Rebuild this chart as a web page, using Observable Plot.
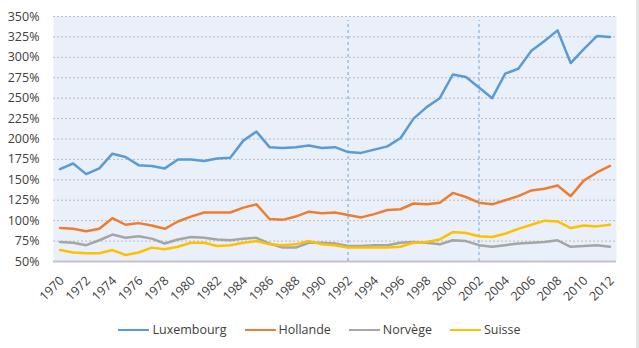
<!DOCTYPE html>
<html>
<head>
<meta charset="utf-8">
<script src="https://cdn.jsdelivr.net/npm/d3@7"></script>
<script src="https://cdn.jsdelivr.net/npm/@observablehq/plot@0.6"></script>
<style>
  html, body { margin: 0; padding: 0; background: #fff; }
  body { width: 639px; height: 348px; overflow: hidden; position: relative; font-family: "Open Sans", sans-serif; }
  #edge { position: absolute; top: 0; right: 0; width: 3px; height: 348px; background: #e3e3e3; }
  #chart svg { display: block; }
  #legend { display: flex; justify-content: center; align-items: center; gap: 18px; margin-top: 13px; font-size: 12.5px; line-height: 17px; color: #404040; }
  .item { display: flex; align-items: center; gap: 3px; }
  .sw { width: 31px; height: 2px; display: inline-block; }
</style>
</head>
<body>
<div id="chart"></div>
<div id="legend"></div>
<div id="edge"></div>
<script>
const years = [1970, 1971, 1972, 1973, 1974, 1975, 1976, 1977, 1978, 1979,
  1980, 1981, 1982, 1983, 1984, 1985, 1986, 1987, 1988, 1989,
  1990, 1991, 1992, 1993, 1994, 1995, 1996, 1997, 1998, 1999,
  2000, 2001, 2002, 2003, 2004, 2005, 2006, 2007, 2008, 2009,
  2010, 2011, 2012];

const luxembourg = [163, 170, 157, 164, 182, 178, 168, 167, 164, 175,
  175, 173, 176, 177, 198, 209, 190, 189, 190, 192,
  189, 190, 184, 183, 187, 191, 201, 225, 239, 250,
  279, 276, 263, 250, 280, 286, 308, 320, 333, 293,
  310, 326, 325];

const hollande = [91, 90, 87, 90, 103, 95, 97, 94, 90, 99,
  105, 110, 110, 110, 116, 120, 102, 101, 105, 111,
  109, 110, 107, 104, 108, 113, 114, 121, 120, 122,
  134, 129, 122, 120, 125, 130, 137, 139, 143, 130,
  149, 159, 167];

const norvege = [74, 73, 70, 76, 83, 79, 81, 78, 72, 77,
  80, 79, 77, 76, 78, 79, 72, 67, 67, 73,
  73, 72, 69, 69, 70, 70, 73, 74, 73, 71,
  76, 75, 70, 68, 70, 72, 73, 74, 76, 68,
  69, 70, 68];

const suisse = [64, 61, 60, 60, 64, 58, 61, 67, 65, 68,
  73, 73, 69, 70, 73, 75, 71, 70, 71, 75,
  71, 70, 67, 67, 67, 67, 68, 73, 74, 77,
  86, 85, 81, 80, 84, 90, 95, 100, 99, 91,
  94, 93, 95];

const seriesNames = ["Luxembourg", "Hollande", "Norvège", "Suisse"];
const seriesValues = [luxembourg, hollande, norvege, suisse];
const seriesColors = ["#5b9bd5", "#ed7d31", "#a5a5a5", "#ffc000"];

const xTicks = [1970, 1972, 1974, 1976, 1978, 1980, 1982, 1984, 1986, 1988, 1990,
  1992, 1994, 1996, 1998, 2000, 2002, 2004, 2006, 2008, 2010, 2012];
const yTicks = [50, 75, 100, 125, 150, 175, 200, 225, 250, 275, 300, 325, 350];
const markerYears = [1992, 2002];

// Long-format rows for the line marks
const rows = seriesNames.flatMap((name, i) =>
  years.map((year, j) => ({ series: name, year, value: seriesValues[i][j] }))
);

const chart = Plot.plot({
  width: 639,
  height: 308,
  marginLeft: 53,
  marginRight: 23,
  marginTop: 16,
  marginBottom: 47,
  style: { fontFamily: "Open Sans, sans-serif", color: "#404040", background: "transparent", overflow: "visible" },
  x: { type: "linear", domain: [1969.5, 2012.5] },
  y: { domain: [50, 350] },
  color: { domain: seriesNames, range: seriesColors },
  marks: [
    Plot.frame({ fill: "#e9f0f9", stroke: null }),
    Plot.gridY(yTicks.slice(1), { stroke: "#bcbcbc", strokeOpacity: 1, strokeDasharray: "2,2" }),
    Plot.ruleY([50], { stroke: "#c4c4c4", strokeWidth: 2 }),
    Plot.ruleX(markerYears, { y1: 50, y2: 350, insetBottom: -4, stroke: "#5b9bd5", strokeOpacity: 0.85, strokeWidth: 1, strokeDasharray: "3,3" }),
    Plot.axisY(yTicks, {
      tickSize: 0, tickPadding: 14, tickFormat: d => d + "%", fontSize: 12.5, label: null
    }),
    Plot.axisX(xTicks, {
      tickSize: 0, tickPadding: 17, tickRotate: -45, dx: 2, tickFormat: d => String(d), fontSize: 12.5, label: null
    }),
    Plot.line(rows, {
      x: "year", y: "value", z: "series", stroke: "series",
      strokeWidth: 2.5, strokeLinejoin: "round", strokeLinecap: "round"
    })
  ]
});
document.getElementById("chart").appendChild(chart);

// Legend below the plot
const legend = d3.select("#legend");
seriesNames.forEach((name, i) => {
  const item = legend.append("div").attr("class", "item");
  item.append("span").attr("class", "sw").style("background", seriesColors[i]);
  item.append("span").text(name);
});
</script>
</body>
</html>
